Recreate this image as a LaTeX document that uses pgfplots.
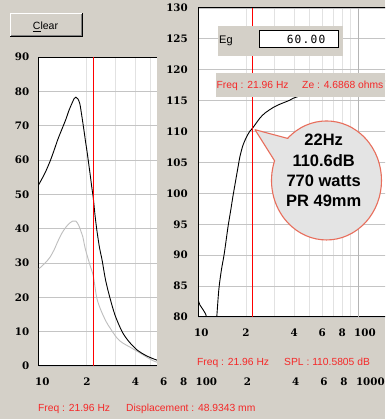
\documentclass[border=0pt]{standalone}
\usepackage{pgfplots}
\pgfplotsset{compat=1.18}
\usepackage{fontspec}
\setmainfont{Liberation Sans}
\newfontfamily\tickfont{DejaVu Serif}
\newfontfamily\monofont{DejaVu Sans Mono}
\definecolor{bg}{RGB}{212,208,200}
\definecolor{gridH}{RGB}{196,196,196}
\definecolor{gridV}{RGB}{226,226,226}
\definecolor{decade}{RGB}{180,180,180}
\definecolor{textred}{RGB}{245,40,40}
\definecolor{lightcurve}{RGB}{190,190,190}
\definecolor{bubblefill}{RGB}{228,228,228}
\definecolor{bubbleline}{RGB}{232,110,92}
\definecolor{btndark}{RGB}{128,128,128}

\begin{document}
\begin{tikzpicture}[x=1pt,y=1pt]
\useasboundingbox (0,0) rectangle (385,419);
\clip (0,0) rectangle (385,419);
\fill[bg] (0,0) rectangle (385,419);

% ---------------- left plot: displacement ----------------
\begin{axis}[
  xmode=log,
  anchor=south west, scale only axis,
  at={(38.5pt,53pt)}, width=320.8pt, height=309pt,
  xmin=10, xmax=1000, ymin=0, ymax=90,
  major tick length=0pt, minor tick length=0pt,
  xmajorgrids, ymajorgrids,
  x grid style={gridV, line width=0.8pt},
  y grid style={gridH, line width=0.8pt},
  axis line style={black, line width=1pt},
  axis background/.style={fill=white},
  /pgf/number format/assume math mode=true,
  tick label style={font=\tickfont\bfseries\fontsize{10.3}{10}\selectfont},
  xtick={10,20,30,40,50,60,70,80,90,100,200,300,400,500,600,700,800,900,1000},
  xticklabels={10,2,,4,,6,,8,,100,2,,4,,6,,8,,1000},
  ytick={0,10,...,90},
  x tick label style={anchor=base west, inner sep=0pt, yshift=-20pt, xshift=-3.5pt},
  y tick label style={anchor=east, inner sep=0pt, xshift=-9pt},
]
\addplot[lightcurve, line width=0.9pt, smooth] coordinates {
(10,28.2) (11,30) (11.8,31.7) (12.5,33.8) (13.2,36.3) (14.0,38.7) (14.8,40.4)
(15.6,41.6) (16.3,42.2) (17.1,42.2) (17.8,41) (18.4,39.2) (18.9,37.6) (19.5,34.5)
(20.3,31.5) (21.0,29.2) (21.96,26.2) (23.0,20.2) (24,17.3) (25.2,14.9) (26.5,12.8)
(27.9,11.1) (30.9,8.1) (33.5,6.7) (37.2,5.5) (42.9,3.8) (48,2.4) (54.9,1.1)
(70,0.6) (100,0.3)};
\addplot[black, line width=0.9pt, smooth] coordinates {
(10,52.7) (10.5,54.5) (11,56.3) (11.8,59.6) (12.5,62.8) (13.2,66) (14.0,69)
(14.8,71.8) (15.5,74.5) (16.2,76.6) (16.7,77.9) (17.1,78.3) (17.6,77.8) (18.1,76.4)
(18.6,73) (19.2,68.7) (19.7,65) (20.1,62.3) (20.6,58.6) (21.1,55) (21.5,52)
(21.96,48.9) (22.5,44) (23.1,39.6) (24,34.5) (24.9,30.9) (26.2,25) (27.9,19.8)
(30,14.8) (33.2,10) (36.5,7.2) (41.1,4.7) (47,3.0) (54.9,1.7) (65,1.0) (80,0.6) (100,0.3)};
\addplot[red, line width=1pt] coordinates {(21.96,0) (21.96,90)};
\end{axis}

% panel that covers the left plot
\fill[bg] (157,47) rectangle (385,419);

% ---------------- right plot: SPL ----------------
\begin{axis}[
  xmode=log,
  anchor=south west, scale only axis,
  at={(198pt,102pt)}, width=188.2pt, height=309pt,
  xmin=10, xmax=150, ymin=80, ymax=130,
  major tick length=0pt, minor tick length=0pt,
  xmajorgrids, ymajorgrids,
  x grid style={gridV, line width=0.8pt},
  y grid style={gridH, line width=0.8pt},
  axis line style={black, line width=1pt},
  axis background/.style={fill=white},
  /pgf/number format/assume math mode=true,
  tick label style={font=\tickfont\bfseries\fontsize{10.3}{10}\selectfont},
  xtick={10,20,30,40,50,60,70,80,90,100},
  xticklabels={10,2,,4,,6,,8,,100},
  ytick={80,85,...,130},
  x tick label style={anchor=base west, inner sep=0pt, yshift=-19.7pt, xshift=-4pt},
  y tick label style={anchor=east, inner sep=0pt, xshift=-10pt},
]
\draw[decade, line width=0.8pt] (axis cs:100,80) -- (axis cs:100,130);
\addplot[black, line width=0.9pt, smooth] coordinates {
(10,82.8) (10.3,81.9) (10.8,81.1) (11.3,80) (11.6,77) (12.2,70) (12.8,76.5)
(13.1,80) (13.5,84.5) (14.0,87.6) (14.6,90.3) (15.4,94.6)
(16.0,97.2) (16.5,99.4) (17.2,102.1) (17.8,104.3) (18.3,106) (19.1,107.8)
(20,109) (21,110) (21.96,110.58) (23,111.3) (24.4,112.2) (26.2,113) (29.5,113.9)
(31.6,114.3) (37.6,115.1) (39.4,115.4) (50,116.3) (70,117.2) (100,117.8) (150,118.2)};
\addplot[red, line width=1pt] coordinates {(21.96,80) (21.96,130)};
\end{axis}

% Eg panel
\fill[bg] (218,363) rectangle (343,393);
\filldraw[fill=white, draw=black, line width=1pt] (259.5,371.5) rectangle (338.5,388.5);
\node[anchor=base west, inner sep=0pt, font=\fontsize{11}{12}\selectfont] at (219,375.7) {Eg};
\node[anchor=base east, inner sep=0pt, font=\monofont\fontsize{11.2}{12}\selectfont] at (325.5,375.7)
  {6\kern1.2pt0\kern1.2pt.\kern1.2pt0\kern1.2pt0};

% info panel (impedance)
\fill[bg] (216,322) rectangle (385,346);
\node[anchor=base west, inner sep=0pt, text=textred, font=\fontsize{10.3}{12}\selectfont] at (216.5,330.7) {Freq : 21.96 Hz};
\node[anchor=base west, inner sep=0pt, text=textred, font=\fontsize{10.3}{12}\selectfont] at (302,330.7) {Ze : 4.6868 ohms};

% callout bubble
\filldraw[fill=bubblefill, draw=bubbleline, line width=1.1pt, line join=round]
  (255,289.3) -- (287.6,280.6) arc[start angle=135, end angle=-199.3, x radius=55, y radius=59.5] -- cycle;
\begin{scope}[every node/.style={anchor=base, inner sep=0pt, font=\bfseries\fontsize{16.5}{18}\selectfont}]
\node at (323.7,273.7) {22Hz};
\node at (323.7,252.7) {110.6dB};
\node at (323.7,232.3) {770 watts};
\node at (323.7,212.3) {PR 49mm};
\end{scope}

% readouts
\begin{scope}[every node/.style={anchor=base west, inner sep=0pt, text=textred, font=\fontsize{10.3}{12}\selectfont}]
\node at (197,53) {Freq : 21.96 Hz};
\node at (284,53) {SPL : 110.5805 dB};
\node at (38,8) {Freq : 21.96 Hz};
\node at (126,8) {Displacement : 48.9343 mm};
\end{scope}

% Clear button
\fill[bg] (10,382) rectangle (82.5,406);
\draw[white, line width=1pt] (10.5,382) -- (10.5,405.5) -- (82,405.5);
\draw[btndark, line width=1pt] (11,383.5) -- (81.5,383.5) -- (81.5,405);
\draw[black, line width=1pt] (10,382.5) -- (82.5,382.5) -- (82.5,406);
\node[anchor=base, inner sep=0pt, font=\fontsize{10.5}{12}\selectfont] at (45.5,389.7) {\underline{C}lear};
\end{tikzpicture}
\end{document}
